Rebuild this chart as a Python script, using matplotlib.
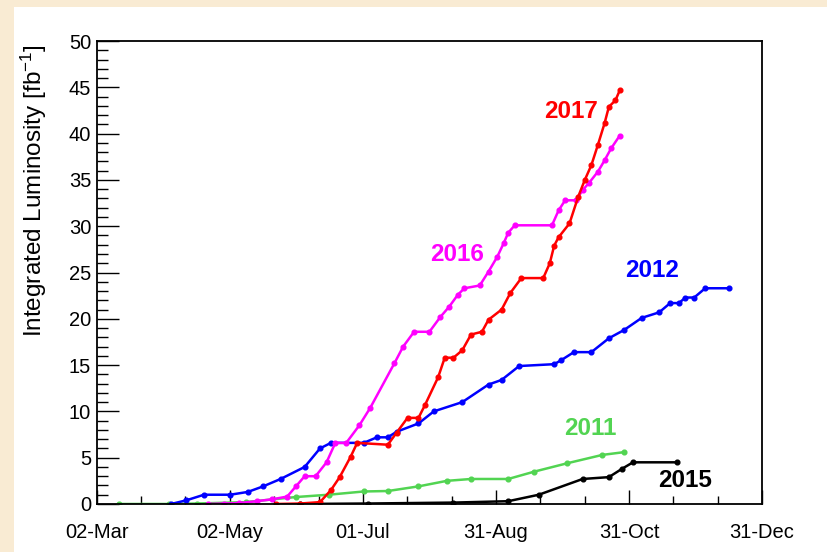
import numpy as np
import matplotlib.pyplot as plt
from matplotlib.patches import Rectangle

plt.rcParams['font.family'] = ['Liberation Sans', 'DejaVu Sans']
plt.rcParams['mathtext.fontset'] = 'custom'
plt.rcParams['mathtext.rm'] = 'Liberation Sans'
plt.rcParams['mathtext.default'] = 'regular'

# day of year (02-Mar = 61, 31-Dec = 365) and integrated luminosity [fb^-1]
day_2011 = [71, 94, 107, 129, 152, 167, 183, 194, 208, 221, 232, 249, 261, 276, 292, 302]
lumi_2011 = [0, 0, 0.05, 0.2, 0.75, 1.0, 1.35, 1.4, 1.9, 2.5, 2.7, 2.7, 3.5, 4.4, 5.3, 5.6]

day_2012 = [95, 102, 110, 122, 130, 137, 145, 156, 163, 168, 183, 189, 194, 198, 208, 215,
            228, 240, 246, 254, 270, 273, 279, 287, 295, 302, 310, 318, 323, 327, 330, 334, 339, 350]
lumi_2012 = [0, 0.4, 1.0, 1.0, 1.3, 1.9, 2.7, 4.0, 6.0, 6.6, 6.6, 7.2, 7.2, 7.8, 8.7, 10.0,
             11.0, 12.9, 13.4, 14.9, 15.1, 15.5, 16.4, 16.4, 17.9, 18.8, 20.1, 20.7, 21.7, 21.7, 22.3, 22.3, 23.3, 23.3]

day_2015 = [154, 185, 224, 249, 263, 283, 295, 301, 306, 326]
lumi_2015 = [0, 0.05, 0.15, 0.3, 1.0, 2.7, 2.9, 3.8, 4.5, 4.5]

day_2016 = [112, 119, 126, 134, 141, 148, 152, 156, 161, 166, 170, 175, 181, 186, 197, 201,
            206, 213, 218, 222, 226, 229, 236, 240, 244, 247, 249, 252, 269, 272, 275, 280,
            283, 286, 290, 293, 296, 300]
lumi_2016 = [0, 0.05, 0.1, 0.3, 0.5, 0.8, 1.9, 3.0, 3.0, 4.5, 6.6, 6.6, 8.5, 10.4, 15.2, 17.0,
             18.6, 18.6, 20.2, 21.3, 22.6, 23.3, 23.6, 25.1, 26.7, 28.2, 29.3, 30.1, 30.1, 31.7, 32.8, 32.8,
             33.9, 34.7, 35.9, 37.1, 38.4, 39.8]

day_2017 = [143, 154, 163, 168, 172, 177, 180, 194, 198, 203, 208, 211, 217, 220, 224, 228,
            232, 237, 240, 246, 250, 255, 265, 268, 270, 272, 277, 281, 284, 287, 290, 293,
            295, 298, 300]
lumi_2017 = [0, 0.05, 0.2, 1.5, 2.9, 5.1, 6.6, 6.4, 7.7, 9.3, 9.3, 10.7, 13.7, 15.8, 15.8, 16.6,
             18.3, 18.6, 19.9, 21.0, 22.8, 24.4, 24.4, 26.0, 27.9, 28.8, 30.3, 33.2, 35.0, 36.6, 38.8, 41.1,
             42.9, 43.6, 44.7]

tick_days = [61, 121.8, 182.6, 243.4, 304.2, 365]
tick_labels = ['02-Mar', '02-May', '01-Jul', '31-Aug', '31-Oct', '31-Dec']

fig = plt.figure(figsize=(8.27, 5.52), dpi=100)
fig.patch.set_facecolor('#f9ebd3')
fig.patches.append(Rectangle((14 / 827, 0), 1, 1 - 7 / 552, transform=fig.transFigure,
                             facecolor='white', edgecolor='none', zorder=-5))

ax = fig.add_axes([0.117, 0.087, 0.8045, 0.8386])

series = [
    (day_2011, lumi_2011, '#52d452'),
    (day_2015, lumi_2015, 'black'),
    (day_2012, lumi_2012, '#0000ff'),
    (day_2016, lumi_2016, '#ff00ff'),
    (day_2017, lumi_2017, '#ff0000'),
]
for d, l, c in series:
    ax.plot(d, l, color=c, lw=1.8, marker='o', ms=3.4, mec=c, mfc=c)

labels = [('2017', 277.5, 42.4, '#ff0000'), ('2016', 225.7, 27.0, '#ff00ff'),
          ('2012', 314.6, 25.2, '#0000ff'), ('2011', 286.6, 8.1, '#52d452'),
          ('2015', 329.7, 2.5, 'black')]
for txt, x, y, c in labels:
    ax.text(x, y, txt, color=c, fontsize=17.5, fontweight='bold', ha='center', va='center')

ax.set_xlim(61, 365)
ax.set_ylim(0, 50)
ax.set_xticks(tick_days)
ax.set_xticklabels(tick_labels)
ax.set_xticks(np.linspace(61, 365, 16), minor=True)
ax.set_yticks(np.arange(0, 51, 5))
ax.set_yticks(np.arange(0, 51, 1), minor=True)

ax.tick_params(axis='both', which='both', direction='in', labelsize=14.5, width=1)
ax.tick_params(axis='y', which='major', length=16, pad=4)
ax.tick_params(axis='y', which='minor', length=8)
ax.tick_params(axis='x', which='major', length=10, pad=14)
ax.tick_params(axis='x', which='minor', length=6)
for s in ax.spines.values():
    s.set_linewidth(1.3)

ax.set_ylabel('Integrated Luminosity [fb$^{-1}$]', fontsize=17.5)
ax.yaxis.set_label_coords(-0.072, 0.678)

fig.savefig('out.png', dpi=100, facecolor=fig.get_facecolor())
